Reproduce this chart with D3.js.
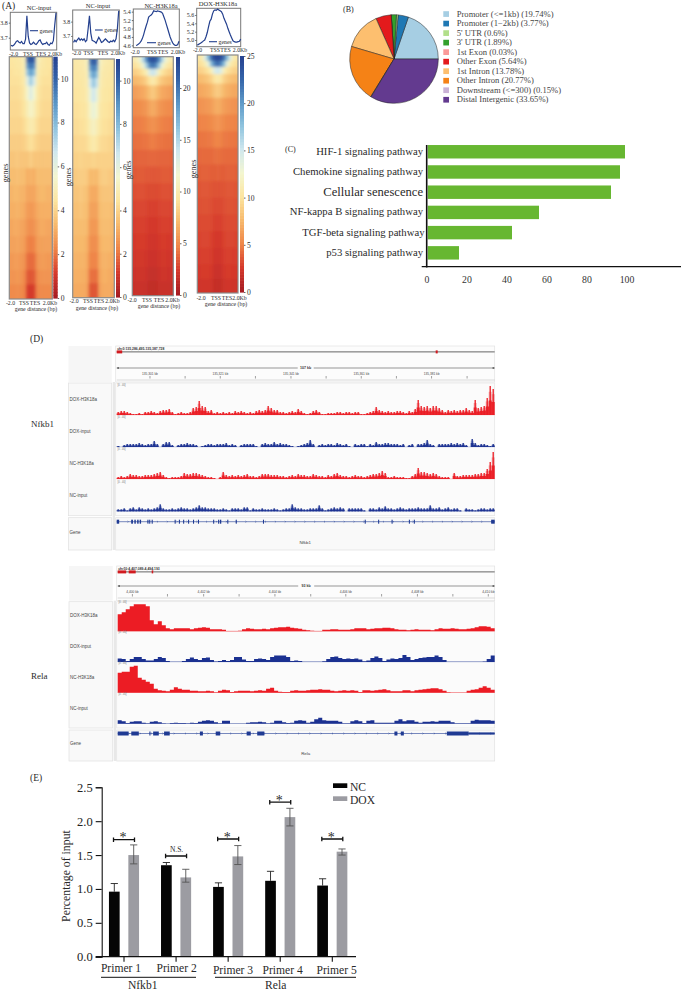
<!DOCTYPE html>
<html><head><meta charset="utf-8">
<script src="https://cdn.jsdelivr.net/npm/d3@7"></script>
<style>
html,body{margin:0;padding:0;background:#fff;overflow:hidden}
svg{display:block}
text{font-family:"Liberation Serif",serif;fill:#2a2a2a}
.igv text,text.igv{font-family:"Liberation Sans",sans-serif;fill:#444}
</style></head><body>
<svg id="c" width="681" height="991"></svg>
<script>
// ---------- Panel A: profile curves ----------
const profileNC1 = [3.65,3.645,3.65,3.66,3.675,3.68,3.67,3.665,3.675,3.66,3.66,3.69,3.845,3.71,3.665,3.655,3.66,3.67,3.66,3.655,3.665,3.68,3.685,3.665,3.655,3.66,3.66,3.67,3.655,3.65,3.665,3.66,3.68,3.78,3.865];
const profileNC2 = [3.655,3.67,3.66,3.675,3.685,3.67,3.68,3.67,3.68,3.66,3.67,3.75,3.84,3.72,3.67,3.665,3.66,3.65,3.67,3.69,3.675,3.655,3.66,3.67,3.68,3.67,3.66,3.655,3.665,3.66,3.67,3.66,3.68,3.75,3.875];
const profileNCk = [4.6,4.61,4.63,4.66,4.70,4.76,4.85,4.96,5.06,5.15,5.27,5.3,5.32,5.36,5.42,5.41,5.40,5.42,5.41,5.40,5.39,5.36,5.28,5.2,5.1,5.0,4.9,4.8,4.72,4.66,4.62,4.6,4.6,4.62,4.7];
const profileDOXk = [4.88,4.89,4.91,4.93,4.95,4.98,5.0,5.08,5.18,5.32,5.45,5.5,5.62,5.7,5.72,5.71,5.74,5.72,5.7,5.68,5.62,5.52,5.45,5.38,5.28,5.2,5.12,5.05,4.98,4.96,4.95,4.95,4.96,4.97,5.02];

// ---------- Panel A: heatmaps (17 rows of genes, 13 columns) ----------
const heatRowEdges = [0,.025,.05,.08,.12,.18,.25,.32,.39,.46,.53,.60,.67,.74,.81,.88,.94,1];
const heatNC1 = [
[4.4,4.5,4.5,4.6,5.0,9.8,10.5,10,5.2,4.7,4.5,4.4,4.4],
[4.4,4.4,4.5,4.5,4.9,8.8,9.6,9.0,5.0,4.6,4.5,4.4,4.4],
[4.3,4.4,4.4,4.5,4.8,7.6,8.6,7.8,4.9,4.5,4.4,4.4,4.3],
[4.3,4.3,4.3,4.4,4.7,6.2,7.4,6.4,4.8,4.4,4.3,4.3,4.3],
[4.2,4.2,4.2,4.3,4.6,5.4,6.2,5.5,4.6,4.3,4.2,4.2,4.2],
[4.1,4.1,4.1,4.2,4.4,4.9,5.3,5.0,4.4,4.2,4.1,4.1,4.1],
[4.0,4.0,4.0,4.0,4.2,4.5,4.8,4.6,4.2,4.0,4.0,4.0,4.0],
[3.8,3.8,3.8,3.8,3.9,4.1,4.3,4.1,3.9,3.8,3.8,3.8,3.8],
[3.6,3.6,3.7,3.6,3.6,3.6,3.8,3.6,3.6,3.6,3.6,3.6,3.6],
[3.4,3.4,3.5,3.4,3.4,3.1,3.2,3.1,3.4,3.4,3.4,3.4,3.4],
[3.2,3.3,3.3,3.2,3.2,2.9,2.9,2.9,3.2,3.3,3.3,3.2,3.2],
[3.1,3.1,3.2,3.1,3.0,2.7,2.6,2.7,3.0,3.1,3.1,3.1,3.1],
[2.9,3.0,3.0,2.9,2.8,2.5,2.4,2.5,2.8,3.0,3.0,2.9,2.9],
[2.8,2.8,2.9,2.8,2.7,2.2,2.1,2.2,2.7,2.8,2.8,2.8,2.8],
[2.6,2.7,2.7,2.6,2.5,1.9,1.8,1.9,2.5,2.7,2.7,2.6,2.6],
[2.5,2.5,2.6,2.5,2.3,1.6,1.5,1.6,2.3,2.5,2.5,2.5,2.5],
[2.3,2.3,2.4,2.3,2.2,1.2,1.0,1.2,2.2,2.3,2.3,2.3,2.3]];
const heatNC2 = [
[4.6,4.6,4.7,4.7,5.1,9.4,10.2,9.6,5.3,4.8,4.7,4.6,4.6],
[4.5,4.6,4.6,4.7,5.0,8.6,9.4,8.8,5.1,4.7,4.6,4.6,4.5],
[4.5,4.5,4.6,4.6,4.9,7.6,8.6,7.8,5.0,4.6,4.6,4.5,4.5],
[4.5,4.5,4.5,4.6,4.8,6.6,7.6,6.8,4.9,4.6,4.5,4.5,4.5],
[4.4,4.4,4.5,4.5,4.8,5.8,6.6,5.9,4.8,4.5,4.5,4.4,4.4],
[4.3,4.3,4.4,4.4,4.6,5.3,5.8,5.4,4.6,4.4,4.4,4.3,4.3],
[4.2,4.2,4.3,4.3,4.5,4.9,5.2,4.9,4.5,4.3,4.3,4.2,4.2],
[4.0,4.1,4.1,4.1,4.2,4.5,4.7,4.5,4.2,4.1,4.1,4.0,4.0],
[3.9,3.9,4.0,3.9,3.9,3.9,4.0,3.9,3.9,3.9,3.9,3.9,3.9],
[3.7,3.8,3.8,3.8,3.7,3.3,3.4,3.3,3.7,3.8,3.8,3.7,3.7],
[3.6,3.6,3.7,3.6,3.5,3.0,3.0,3.0,3.5,3.6,3.6,3.6,3.6],
[3.5,3.5,3.6,3.5,3.4,2.8,2.8,2.8,3.4,3.5,3.5,3.5,3.4],
[3.4,3.4,3.4,3.4,3.3,2.6,2.6,2.6,3.3,3.4,3.4,3.4,3.3],
[3.3,3.3,3.3,3.3,3.1,2.4,2.4,2.4,3.1,3.3,3.3,3.3,3.2],
[3.2,3.2,3.2,3.2,3.0,2.2,2.2,2.2,3.0,3.2,3.2,3.1,3.1],
[3.1,3.1,3.1,3.1,2.9,1.9,1.9,1.9,2.9,3.1,3.1,3.0,3.0],
[3.0,3.0,3.0,3.0,2.8,1.5,1.5,1.5,2.8,3.0,3.0,3.0,2.9]];
const heatNCk = [
[9.8,10.5,12,15,19,21.5,22,21.5,19,15,12,10.5,9.8],
[9,9.4,10.2,12,15.5,19,20,19,15.5,12,10.2,9.4,9],
[8,8.2,8.6,9.2,10.4,13,14,13,10.4,9.2,8.6,8.2,8],
[6.8,7,7.2,7.6,8.2,9.2,9.8,9.2,8.2,7.6,7.2,7,6.8],
[5.6,5.8,6,6.2,6.6,7.3,7.8,7.3,6.6,6.2,6,5.8,5.6],
[4.8,4.9,5,5.2,5.4,6,6.3,6,5.4,5.2,5,4.9,4.8],
[4.3,4.4,4.4,4.5,4.7,5,5.2,5,4.7,4.5,4.4,4.4,4.3],
[3.9,4,4,4.1,4.1,4.3,4.4,4.3,4.1,4.1,4,4,3.9],
[3.5,3.6,3.6,3.6,3.6,3.7,3.7,3.7,3.6,3.6,3.6,3.6,3.5],
[3.2,3.3,3.3,3.3,3.2,3.2,3.2,3.2,3.2,3.3,3.3,3.3,3.2],
[2.9,3,3,3,2.9,2.8,2.8,2.8,2.9,3,3,3,2.9],
[2.6,2.7,2.7,2.7,2.6,2.5,2.5,2.5,2.6,2.7,2.7,2.7,2.6],
[2.4,2.5,2.5,2.5,2.4,2.2,2.2,2.2,2.4,2.5,2.5,2.5,2.4],
[2.2,2.3,2.3,2.3,2.2,2,2,2,2.2,2.3,2.3,2.2,2.2],
[2,2.1,2.1,2.1,2,1.8,1.8,1.8,2,2.1,2.1,2,2],
[1.8,1.9,1.9,1.9,1.8,1.5,1.5,1.5,1.8,1.9,1.9,1.8,1.8],
[1.6,1.7,1.7,1.7,1.6,1.3,1.3,1.3,1.6,1.7,1.7,1.6,1.6]];
const heatDOXk = [
[10.2,11,14,18,22,24,24.5,24,22,18,14,11,10.2],
[9.6,10,11,13.5,18,21,22,21,18,13.5,11,10,9.6],
[8.8,9,9.5,10,11.5,14,15,14,11.5,10,9.5,9,8.8],
[7.6,7.8,8,8.4,9,10,10.5,10,9,8.4,8,7.8,7.6],
[6.6,6.7,6.9,7.1,7.5,8.2,8.6,8.2,7.5,7.1,6.9,6.7,6.6],
[5.6,5.7,5.8,6,6.2,6.7,7,6.7,6.2,6,5.8,5.7,5.6],
[4.9,5,5,5.1,5.3,5.6,5.8,5.6,5.3,5.1,5,5,4.9],
[4.4,4.5,4.5,4.6,4.6,4.9,5,4.9,4.6,4.6,4.5,4.5,4.4],
[4,4.1,4.1,4.1,4.1,4.2,4.3,4.2,4.1,4.1,4.1,4.1,4],
[3.7,3.8,3.8,3.8,3.7,3.7,3.8,3.7,3.7,3.8,3.8,3.8,3.7],
[3.4,3.5,3.5,3.5,3.4,3.3,3.3,3.3,3.4,3.5,3.5,3.5,3.4],
[3.2,3.3,3.3,3.3,3.2,3,3,3,3.2,3.3,3.3,3.3,3.2],
[3,3.1,3.1,3.1,3,2.7,2.7,2.7,3,3.1,3.1,3.1,3],
[2.8,2.9,2.9,2.9,2.8,2.4,2.4,2.4,2.8,2.9,2.9,2.9,2.8],
[2.6,2.7,2.7,2.7,2.6,2.2,2.2,2.2,2.6,2.7,2.7,2.6,2.6],
[2.4,2.5,2.5,2.5,2.4,1.9,1.9,1.9,2.4,2.5,2.5,2.4,2.4],
[2.1,2.2,2.2,2.2,2.1,1.6,1.6,1.6,2.1,2.2,2.2,2.1,2.1]];
const heatRamp = ["#a61c22","#d63a2c","#ef8648","#f7b96c","#fce5a0","#f3f6d0","#cfe7ee","#8fc3de","#5b97c7","#3463a8","#26408f"];

// ---------- Panel B ----------
const pieLabels = ["Promoter (<=1kb) (19.74%)","Promoter (1\u22122kb) (3.77%)","5' UTR (0.6%)","3' UTR (1.89%)","1st Exon (0.03%)","Other Exon (5.64%)","1st Intron (13.78%)","Other Intron (20.77%)","Downstream (<=300) (0.15%)","Distal Intergenic (33.65%)"];
const pieValues = [19.74,3.77,0.6,1.89,0.03,5.64,13.78,20.77,0.15,33.65];
const pieColors = ["#a6cee3","#1f78b4","#b2df8a","#33a02c","#fb9a99","#e31a1c","#fdbf6f","#f58216","#cab2d6","#633a8f"];

// ---------- Panel C ----------
const pathways = ["HIF-1 signaling pathway","Chemokine signaling pathway","Cellular senescence","NF-kappa B signaling pathway","TGF-beta signaling pathway","p53 signaling pathway"];
const pathwayValues = [99,96.5,92,56,42.5,16];
const pathwayTicks = [0,20,40,60,80,100];

// ---------- Panel D: Nfkb1 tracks (signal per bin) ----------
const nfkbDoxH3K = [3,4,4,3,2,1,1,2,1,3,3,4,3,2,4,5,5,6,3,1,2,3,2,2,3,7,8,14,9,8,4,5,2,3,2,3,2,3,2,4,3,4,3,2,3,2,4,5,4,5,9,7,5,5,3,3,2,3,4,3,6,4,2,1,2,4,5,3,1,1,2,2,2,3,3,2,3,3,2,3,3,1,1,2,3,4,8,5,4,3,4,3,3,4,4,3,2,4,3,6,15,9,8,9,7,9,9,7,5,3,5,4,5,4,5,5,7,5,4,15,7,8,9,17,29,26];
const nfkbDoxInput = [1,0,2,3,3,3,3,4,3,2,3,3,6,3,0,3,5,5,2,0,2,3,3,4,3,3,2,0,1,2,3,3,2,3,3,3,4,2,3,2,0,2,3,3,3,3,1,0,3,4,3,3,5,3,4,3,3,2,1,0,1,2,3,4,7,3,0,2,3,2,3,3,2,4,3,2,3,1,0,3,2,3,3,1,3,2,5,3,3,4,4,3,3,3,2,3,0,2,3,0,3,3,4,7,3,2,0,3,3,3,3,4,3,4,3,4,2,0,8,4,2,3,3,2,1,3];
const nfkbNcH3K = [2,3,2,3,5,4,4,3,3,4,4,4,5,6,7,4,2,1,2,2,2,3,6,5,5,6,6,5,4,3,2,2,1,0,2,7,4,3,4,3,4,3,4,5,3,3,2,3,5,5,5,4,4,4,3,3,2,3,4,3,5,4,4,3,3,5,4,3,3,2,4,3,5,6,4,3,3,2,3,4,3,3,2,3,4,5,5,6,8,6,2,2,3,2,2,2,1,1,3,5,11,7,7,6,5,6,5,3,2,2,2,0,6,3,3,4,4,4,4,5,5,6,6,10,17,27];
const nfkbNcInput = [2,2,3,1,3,4,2,4,3,2,3,2,3,4,7,3,2,2,3,2,3,4,3,3,2,3,4,6,4,4,3,3,3,2,2,3,2,1,3,3,3,2,4,4,1,3,2,2,3,2,2,2,3,2,1,2,3,3,7,4,3,3,2,2,3,3,3,6,3,1,2,3,4,3,4,3,0,3,3,3,3,3,1,0,3,3,2,4,3,5,3,3,2,3,4,3,2,3,3,3,4,3,3,3,6,3,3,4,2,3,4,2,3,3,1,0,3,2,2,1,2,3,3,2,3,3];
const nfkbExons = [[0,.7],[4.1,4.6],[5,5.4],[5.8,6.2],[6.5,6.9],[8.7,9],[9.2,9.5],[9.9,10.2],[16.4,16.7],[17.6,17.9],[18.8,19.1],[20.2,20.5],[21.6,21.9],[23,23.3],[27.3,27.6],[28.7,29],[29.2,29.6],[31.3,31.6],[33.7,34],[41.4,41.7],[70.2,70.5],[74,74.3],[77.8,78.1],[82.7,83],[84.1,84.4],[106,107]];
const nfkbAxisTicks = [8.8,18.1,27.4,36.7,46.1,55.4,64.7,74,83.3,92.7];
const nfkbTickLabels = ["135,301 kb","","135,321 kb","","135,341 kb","","135,361 kb","","135,381 kb",""];

// ---------- Panel D: Rela tracks ----------
const relaDoxH3K = [17,19,22,25,27,27,27,25,11,7,10,6,3,2,3,3,3,3,2,3,3.5,4,3.5,2,2,2,1.5,.4,.4,.4,.5,2,3,2.5,2,2,2.5,2,3,3.5,4,4,4.5,3.5,3,2.5,1.5,1,.5,.4,.4,1.5,1.5,2,2,1.5,1.5,1.5,2,3,3,3,2,2.5,3,3,3.5,3.5,3,2,1.5,1.5,1,1.5,2,1.5,1.5,1.5,1,2,3,2.5,2.5,3,2.5,2,2,2.5,3,4,5,5,4.5,3];
const relaDoxInput = [3.5,3,1,3,5,5,3,1.5,1.5,3,5,4,1,.3,.3,.3,1,3,4.5,3,2,4,4.5,2,.5,1,2,1,2,5,5,2.5,1,1,3,3.5,3,2,5,6.5,6.5,6.5,5,1,1.5,1,.3,.3,.3,.3,.3,.8,3,5,5.5,4,3,3.5,3,3.5,2.5,.8,1.5,4,5.5,4,1,2.5,3.5,3,4,7,5,2,3,4,4.5,5,5,6.5,5,2,.3,.3,.3,.3,.3,.3,.3,.3,.3,.5,3,6.5];
const relaNcH3K = [20,21,21,26,27,15,13,11,9,4,2.5,2,1.5,3,5.5,4,3,3,2,2,1.5,1.5,2,1.5,.4,2,3,2.5,.8,1.5,2,2,2,1.5,2,2.5,2,4,5,2,1,.8,.8,2,2.5,2,2,2.5,3,3,3.5,3,3,2,1.5,2,2.5,2,2.5,2,.8,2.5,2.5,2,2.5,3,3.5,2.5,1.5,1.5,1.5,2.5,2.5,1.5,2.5,3,3.5,4,4.5,4.5,3.5,2,.5,.3,.3,.3,.3,2,3,3.5,5,6.5,5,3];
const relaNcInput = [3.5,2.5,.8,2,2.5,2.5,1,.4,2,2.5,1.5,.4,.3,.8,1,.8,.8,.5,1,.8,2,3,3.5,3,1.5,.5,3,3,.3,.3,.3,.3,1,1.5,1.5,2,1.5,.5,1,3,3,1.5,.8,1,3,3.5,3,1,2,4.5,6,3.5,3,3,3,2,.5,.5,2.5,3.5,2.5,.6,3,3.5,1,1,1,1,1,3,4.5,2.5,3.5,3.5,2,1,2,2,2.5,2,3,3,3,1.5,.4,.4,.4,.5,3,4,3.5,3.5,3.5,3];
const relaExons = [[0,2.9,1],[3.6,5.6,1],[8.4,8.7,1],[9.4,10.9,1],[12.3,13.8,1],[21.8,22.6,1],[26,27.2,1],[34.2,35.3,1],[37,38.9,1],[73.4,74.2,1],[75.1,75.9,1],[87.3,93.1,1],[93.1,100,.55]];
const relaAxisTicks = [3.9,13.2,22.8,32.2,41.7,51.2,60.5,70,79.5,88.9,98.3];
const relaTickLabels = ["4,400 kb","","4,402 kb","","4,404 kb","","4,406 kb","","4,408 kb","","4,410 kb"];

// ---------- Panel E ----------
const primers = ["Primer 1","Primer 2","Primer 3","Primer 4","Primer 5"];
const ncValues = [0.96,1.35,1.03,1.12,1.05];
const ncUpper = [1.08,1.39,1.09,1.26,1.15];
const doxValues = [1.5,1.17,1.48,2.06,1.55];
const doxUpper = [1.65,1.29,1.64,2.19,1.59];
const doxLower = [1.37,1.10,1.36,1.93,1.50];
const sigLevels = [1.727,1.486,1.737,2.28,1.737];
const sigLabels = ["*","N.S.","*","*","*"];
const ePanelTicks = [0,0.5,1,1.5,2,2.5];

// ================= drawing =================
const svg = d3.select("#c");
svg.append("rect").attr("width",681).attr("height",991).attr("fill","#fff");
const defs = svg.append("defs");
defs.append("filter").attr("id","hblur").attr("x","-5%").attr("y","-5%").attr("width","110%").attr("height","110%")
  .append("feGaussianBlur").attr("stdDeviation","1.8 1.8");
const label=(x,y,t,size,anchor="start",extra={})=>{
  const s=svg.append("text").attr("x",x).attr("y",y).attr("font-size",size).attr("text-anchor",anchor).text(t);
  Object.entries(extra).forEach(([k,v])=>s.attr(k,v)); return s;
};

// ---- Panel A ----
const panels=[
 {title:"NC-input",tx:39,ty:9.5,prof:profileNC1,box:[10.3,12.3,56.7,50],lx:[11,56],yd:[3.618,3.869],yt:[3.7,3.8],
  xl:[[13.5,"-2.0"],[28,"TSS"],[41,"TES"],[55,"2.0Kb"]],xly:56,leg:[30,38,30.7],
  heat:heatNC1,hb:[9.3,56.7,52.3,299],bar:[53.3,56.7,57.7,298],max:11,cb:[0,2,4,6,8,10],
  bl:[[10.5,"-2.0"],[24,"TSS"],[35,"TES"],[50,"2.0Kb"]],bly:305,gx:36,gy:311,gn:[7.6,173]},
 {title:"NC-input",tx:98,ty:8,prof:profileNC2,box:[72.7,10,119.3,50],lx:[73.5,118.7],yd:[3.602,3.881],yt:[3.7,3.8],
  xl:[[76.5,"-2.0"],[88.5,"TSS"],[103,"TES"],[118,"2.0Kb"]],xly:55,leg:[95,102.7,30],
  heat:heatNC2,hb:[72.7,59,114.3,297.7],bar:[116,59,120,297],max:11,cb:[0,2,4,6,8,10],
  bl:[[74,"-2.0"],[88,"TSS"],[99,"TES"],[112.5,"2.0Kb"]],bly:303,gx:97,gy:309.5,gn:[70.5,177]},
 {title:"NC-H3K18a",tx:161,ty:8,prof:profileNCk,box:[133.3,9,179.3,47.7],lx:[136,179],yd:[4.545,5.463],yt:[4.6,4.8,5.0,5.2,5.4],
  xl:[[135,"-2.0"],[152,"TSS"],[163,"TES"],[178,"2.0Kb"]],xly:53.5,leg:[147,156,42.7],
  heat:heatNCk,hb:[132.3,56.7,173.3,295.7],bar:[176,57,180,295],max:23,cb:[0,5,10,15,20],
  bl:[[132,"-2.0"],[147,"TSS"],[159,"TES"],[172.5,"2.0Kb"]],bly:302,gx:159,gy:308,gn:[131,170]},
 {title:"DOX-H3K18a",tx:218,ty:6,prof:profileDOXk,box:[196.7,8.3,240.7,46.7],lx:[197,240.7],yd:[4.84,5.76],yt:[5.0,5.2,5.4,5.6],
  xl:[[197.5,"-2.0"],[215,"TSS"],[225.5,"TES"],[240,"2.0Kb"]],xly:52,leg:[209,217,41.7],
  heat:heatDOXk,hb:[197.3,55,238,293],bar:[240,56,244,292],max:25,cb:[0,5,10,15,20,25],
  bl:[[201,"-2.0"],[216,"TSS"],[227,"TES"],[239.5,"2.0Kb"]],bly:300,gx:226,gy:306,gn:[196,169]}
];
label(2,9,"(A)",9.5);
panels.forEach((p,pi)=>{
  const g=svg.append("g");
  const [bx0,by0,bx1,by1]=p.box;
  const y=d3.scaleLinear().domain(p.yd).range([by1,by0]);
  const x=d3.scaleLinear().domain([0,p.prof.length-1]).range(p.lx);
  label(p.tx,p.ty,p.title,6.5,"middle");
  g.append("rect").attr("x",bx0).attr("y",by0).attr("width",bx1-bx0).attr("height",by1-by0)
    .attr("fill","#fff").attr("stroke","#777").attr("stroke-width",1);
  g.append("path").datum(p.prof).attr("fill","none").attr("stroke","#24408e").attr("stroke-width",1.2)
    .attr("d",d3.line().x((d,i)=>x(i)).y(d=>y(d)));
  const ya=g.append("g").attr("transform",`translate(${bx0},0)`).call(d3.axisLeft(y).tickValues(p.yt).tickFormat(d3.format(".1f")).tickSize(1.5).tickPadding(1));
  ya.select(".domain").remove(); ya.selectAll("text").attr("font-size",6).attr("font-family","Liberation Serif");
  ya.selectAll("line").attr("stroke","#666");
  p.xl.forEach(([lx,t])=>label(lx,p.xly,t,5.8,"middle"));
  g.append("line").attr("x1",p.leg[0]).attr("x2",p.leg[1]).attr("y1",p.leg[2]).attr("y2",p.leg[2]).attr("stroke","#24408e").attr("stroke-width",1.1);
  label(p.leg[1]+1.6,p.leg[2]+1.8,"genes",5.8);

  // heatmap
  const [hx0,hy0,hx1,hy1]=p.hb;
  const color=d3.scaleLinear().domain(heatRamp.map((c,i)=>i/(heatRamp.length-1)*p.max)).range(heatRamp).clamp(true);
  const hxS=d3.scaleBand().domain(d3.range(p.heat[0].length)).range([hx0,hx1]);
  const hyS=d3.scaleLinear().domain([0,1]).range([hy0,hy1]);
  const cid="hc"+pi;
  defs.append("clipPath").attr("id",cid).append("rect").attr("x",hx0).attr("y",hy0).attr("width",hx1-hx0).attr("height",hy1-hy0);
  const hg=g.append("g").attr("clip-path",`url(#${cid})`);
  const cells=p.heat.flatMap((r,ri)=>r.map((v,ci)=>({r:ri,c:ci,v})));
  [hg.append("g"),hg.append("g").attr("filter","url(#hblur)")].forEach(layer=>{
    layer.selectAll("rect").data(cells).join("rect")
      .attr("x",d=>hxS(d.c)).attr("y",d=>hyS(heatRowEdges[d.r]))
      .attr("width",hxS.bandwidth()+.5).attr("height",d=>hyS(heatRowEdges[d.r+1])-hyS(heatRowEdges[d.r])+.5).attr("fill",d=>color(d.v));
  });
  g.append("rect").attr("x",hx0).attr("y",hy0).attr("width",hx1-hx0).attr("height",hy1-hy0)
    .attr("fill","none").attr("stroke","#8a8a8a").attr("stroke-width",1.2);
  // colour bar
  const [cx0,cy0,cx1,cy1]=p.bar;
  const cy=d3.scaleLinear().domain([0,p.max]).range([cy1,cy0]);
  g.append("g").selectAll("rect").data(d3.range(0,p.max,p.max/80)).join("rect")
    .attr("x",cx0).attr("width",cx1-cx0).attr("y",d=>cy(d+p.max/80)).attr("height",(cy1-cy0)/80+.6).attr("fill",d=>color(d));
  const ca=g.append("g").attr("transform",`translate(${cx1},0)`).call(d3.axisRight(cy).tickValues(p.cb).tickFormat(d3.format("d")).tickSize(1.5).tickPadding(1.5));
  ca.select(".domain").remove(); ca.selectAll("text").attr("font-size",7.6).attr("font-family","Liberation Serif");
  ca.selectAll("line").attr("stroke","#666");
  p.bl.forEach(([lx,t])=>label(lx,p.bly,t,5.8,"middle"));
  label(p.gx,p.gy,"gene distance (bp)",5.8,"middle");
  label(p.gn[0],p.gn[1],"genes",8.2,"middle",{transform:`rotate(-90 ${p.gn[0]} ${p.gn[1]})`});
});

// ---- Panel B ----
label(343,12,"(B)",8);
const pieG=svg.append("g").attr("transform","translate(394,59)");
const pie=d3.pie().sort(null).startAngle(Math.PI/2).endAngle(Math.PI/2-2*Math.PI);
const arc=d3.arc().innerRadius(0).outerRadius(44.3);
pieG.selectAll("path").data(pie(pieValues)).join("path").attr("d",arc)
  .attr("fill",(d,i)=>pieColors[i]).attr("stroke","#222").attr("stroke-width",.5);
const legY=d3.scalePoint().domain(pieLabels).range([14,99.7]);
pieLabels.forEach((t,i)=>{
  svg.append("rect").attr("x",443.3).attr("y",legY(t)-2.8).attr("width",5.7).attr("height",5.7).attr("fill",pieColors[i]);
  label(456.7,legY(t)+2.6,t,8.6).style("fill","#444");
});

// ---- Panel C ----
label(285,152,"(C)",8);
const cX=d3.scaleLinear().domain([0,100]).range([427,627]);
const cY=d3.scaleBand().domain(pathways).range([141.6,263]).paddingInner(.335).paddingOuter(.17);
svg.append("g").selectAll("rect").data(pathways).join("rect")
  .attr("x",cX(0)+.8).attr("y",d=>cY(d)).attr("height",cY.bandwidth())
  .attr("width",(d,i)=>cX(pathwayValues[i])-cX(0)-.8).attr("fill","#67b731");
svg.append("line").attr("x1",426.7).attr("x2",426.7).attr("y1",145).attr("y2",267.5).attr("stroke","#111").attr("stroke-width",1.6);
svg.append("line").attr("x1",421.7).attr("x2",681).attr("y1",266.7).attr("y2",266.7).attr("stroke","#111").attr("stroke-width",1.2);
pathwayTicks.forEach(t=>label(cX(t),283,t,9.8,"middle").style("fill","#333"));
pathways.forEach(p=>{
  const big=p==="Cellular senescence";
  label(p.startsWith("TGF")?424.5:423,cY(p)+cY.bandwidth()/2+(big?3.8:3),p,big?12.6:10.7,"end");
});

// ---- Panel D ----
label(30,342,"(D)",9.5);
label(31,427,"Nfkb1",9);
label(31,679,"Rela",9);

function igv(o){
  const g=svg.append("g").attr("class","igv");
  const {L,M,R,top,hdrBot,base,geneTop,geneBot,chr}=o;
  const panelBg="#f9f9f9";
  g.append("rect").attr("x",L).attr("y",top).attr("width",R-L).attr("height",geneBot-top).attr("fill","#fff");
  g.append("rect").attr("x",L).attr("y",top).attr("width",M-L-5).attr("height",hdrBot-top).attr("fill","#f6f6f6");
  g.append("rect").attr("x",M-1).attr("y",top).attr("width",R-M+1).attr("height",hdrBot-top).attr("fill","#fcfcfc").attr("stroke","#e2e2e2").attr("stroke-width",.7);
  g.append("rect").attr("x",L).attr("y",hdrBot+1).attr("width",M-L-5).attr("height",geneTop-hdrBot-3).attr("fill",panelBg).attr("stroke","#e0e0e0").attr("stroke-width",.7);
  g.append("rect").attr("x",M-1).attr("y",hdrBot+1).attr("width",R-M+1).attr("height",geneTop-hdrBot-3).attr("fill","#fbfbfb").attr("stroke","#e4e4e4").attr("stroke-width",.7);
  g.append("rect").attr("x",L).attr("y",geneTop).attr("width",M-L-5).attr("height",geneBot-geneTop).attr("fill",panelBg).attr("stroke","#e0e0e0").attr("stroke-width",.7);
  g.append("rect").attr("x",M-1).attr("y",geneTop).attr("width",R-M+1).attr("height",geneBot-geneTop).attr("fill","#f9f9f9").attr("stroke","#e0e0e0").attr("stroke-width",.7);
  g.append("rect").attr("x",M-4).attr("y",hdrBot).attr("width",2.4).attr("height",geneBot-hdrBot).attr("fill","#e8e8e8");
  // header
  g.append("text").attr("x",M+.5).attr("y",top+3.7).attr("font-size",3.4).attr("font-weight","bold").style("fill","#333").text(chr);
  g.append("rect").attr("x",M).attr("y",top+5.2).attr("width",R-M).attr("height",1.3).attr("fill","#888");
  o.ideo.forEach(([a,b])=>g.append("rect").attr("x",M+a).attr("y",top+4.4).attr("width",b-a).attr("height",3).attr("fill","#d11a1f"));
  const kb=d3.scaleLinear().domain([0,100]).range([M,R]);
  g.append("line").attr("x1",M).attr("x2",R).attr("y1",o.scaleY).attr("y2",o.scaleY).attr("stroke","#333").attr("stroke-width",.5);
  g.append("rect").attr("x",(M+R)/2-8).attr("y",o.scaleY-2).attr("width",16).attr("height",4).attr("fill","#fcfcfc");
  g.append("text").attr("x",(M+R)/2).attr("y",o.scaleY+1.4).attr("font-size",3.6).attr("font-weight","bold").attr("text-anchor","middle").style("fill","#333").text(o.span);
  g.append("path").attr("fill","#333").attr("d",`M${M} ${o.scaleY}l2 -1v2zM${R} ${o.scaleY}l-2 -1v2z`);
  o.ticks.forEach((t,i)=>{
    g.append("line").attr("x1",kb(t)).attr("x2",kb(t)).attr("y1",o.scaleY+8).attr("y2",o.scaleY+10.5).attr("stroke","#444").attr("stroke-width",.5);
    if(o.tickLabels[i]) g.append("text").attr("x",kb(t)).attr("y",o.scaleY+7).attr("font-size",3.2).attr("text-anchor","middle").style("fill","#444").text(o.tickLabels[i]);
  });
  g.append("line").attr("x1",M).attr("x2",R).attr("y1",o.scaleY+12).attr("y2",o.scaleY+12).attr("stroke","#bbb").attr("stroke-width",.5);
  // tracks
  o.tracks.forEach((t,i)=>{
    const by=base[i];
    const y=d3.scaleLinear().domain([0,31]).range([by,by-31]);
    const x=d3.scaleLinear().domain([0,t.values.length]).range([M,R]);
    const col=t.color, vals=[...t.values,t.values[t.values.length-1]];
    g.append("line").attr("x1",M).attr("x2",R).attr("y1",by-.2).attr("y2",by-.2).attr("stroke",col).attr("stroke-opacity",.4).attr("stroke-width",.6);
    if(o.spiky){
      // solid lower body plus a thin spike at each bin's full height
      g.append("path").datum(vals).attr("fill",col).attr("fill-opacity",.92)
        .attr("d",d3.area().curve(d3.curveStepAfter).x((d,j)=>x(j)).y0(by).y1(d=>y(d*.5)));
      const w=x(1)-x(0);
      g.append("g").selectAll("rect").data(t.values).join("rect")
        .attr("x",(d,j)=>x(j)+w*.28).attr("width",w*.44)
        .attr("y",d=>y(d)).attr("height",d=>by-y(d)).attr("fill",col);
      g.append("g").selectAll("rect").data(t.values).join("rect")
        .attr("x",(d,j)=>x(j)).attr("width",w)
        .attr("y",d=>y(d*.8)).attr("height",d=>by-y(d*.8)).attr("fill",col).attr("fill-opacity",.35);
    } else {
      g.append("path").datum(vals).attr("fill",col)
        .attr("d",d3.area().curve(d3.curveStepAfter).x((d,j)=>x(j)).y0(by).y1(d=>y(d)));
    }
    g.append("text").attr("x",L+1).attr("y",by-o.labelUp).attr("font-size",4.5).text(t.name);
    g.append("text").attr("x",M+.8).attr("y",by-28.8).attr("font-size",2.6).style("fill","#777").text("[0 - 40]");
  });
  // gene
  const gx=d3.scaleLinear().domain(o.geneDomain).range([M,R]);
  g.append("line").attr("x1",M).attr("x2",R).attr("y1",o.geneY).attr("y2",o.geneY).attr("stroke","#1f3a93").attr("stroke-width",.6);
  g.selectAll(".ex").data(o.exons).join("rect").attr("x",d=>gx(d[0])).attr("width",d=>Math.max(.7,gx(d[1])-gx(d[0])))
    .attr("y",d=>o.geneY-2*(d[2]||1)).attr("height",d=>4*(d[2]||1)).attr("fill","#1f3a93");
  g.selectAll(".tk").data(d3.range(3,100,o.chev)).join("path").attr("fill","none").attr("stroke","#1f3a93").attr("stroke-width",.4)
    .attr("d",d=>`M${gx(d*o.geneDomain[1]/100)-.6} ${o.geneY-.9}l1 .9l-1 .9`);
  g.append("text").attr("x",L+1).attr("y",o.geneLabelY).attr("font-size",4.5).text("Gene");
  g.append("text").attr("x",(M+R)/2-.5).attr("y",o.geneNameY).attr("font-size",4.4).attr("text-anchor","middle").text(o.gene);
}
igv({L:68.5,M:116.7,R:494.7,top:346,hdrBot:382,base:[415,447,479,511.3],geneTop:517.7,geneBot:550,chr:"chr3:135,286,495-135,387,728",spiky:true,
  ideo:[[0,5.5],[319,321]],scaleY:368,span:"107 kb",ticks:nfkbAxisTicks,tickLabels:nfkbTickLabels,labelUp:14.5,
  tracks:[{name:"DOX-H3K18a",values:nfkbDoxH3K,color:"#ec1c24"},{name:"DOX-input",values:nfkbDoxInput,color:"#1b3191"},{name:"NC-H3K18a",values:nfkbNcH3K,color:"#ec1c24"},{name:"NC-input",values:nfkbNcInput,color:"#1b3191"}],
  geneDomain:[0,107],exons:nfkbExons,geneY:521.7,geneLabelY:533.5,gene:"Nfkb1",geneNameY:544,chev:2.6});
igv({L:69,M:117.7,R:494.7,top:566,hdrBot:600.7,base:[631.3,662,692.7,723.7],geneTop:730,geneBot:761,chr:"chr10:4,407,089-4,494,193",spiky:false,
  ideo:[[0,8.5],[11,18],[34,35.5]],scaleY:586,span:"93 kb",ticks:relaAxisTicks,tickLabels:relaTickLabels,labelUp:14,
  tracks:[{name:"DOX-H3K18a",values:relaDoxH3K,color:"#ec1c24"},{name:"DOX-input",values:relaDoxInput,color:"#1b3191"},{name:"NC-H3K18a",values:relaNcH3K,color:"#ec1c24"},{name:"NC-input",values:relaNcInput,color:"#1b3191"}],
  geneDomain:[0,100],exons:relaExons,geneY:733.5,geneLabelY:744.5,gene:"Rela",geneNameY:755,chev:3});

// ---- Panel E ----
label(30,781,"(E)",9.5);
const eY=d3.scaleLinear().domain([0,2.5]).range([956.7,787.3]);
const eX=d3.scalePoint().domain(primers).range([124,332.3]);
const off=9.7, bw=10.7, cap=3.6;
const eg=svg.append("g");
primers.forEach((p,i)=>{
  const c=eX(p);
  eg.append("path").attr("d",`M${c-off} ${eY(ncValues[i])}V${eY(ncUpper[i])}M${c-off-cap} ${eY(ncUpper[i])}H${c-off+cap}`).attr("stroke","#222").attr("stroke-width",.9).attr("fill","none");
  eg.append("rect").attr("x",c-off-bw/2).attr("width",bw).attr("y",eY(ncValues[i])).attr("height",eY(0)-eY(ncValues[i])).attr("fill","#050505");
  eg.append("rect").attr("x",c+off-bw/2).attr("width",bw).attr("y",eY(doxValues[i])).attr("height",eY(0)-eY(doxValues[i])).attr("fill","#9c9ca2");
  eg.append("path").attr("d",`M${c+off} ${eY(doxLower[i])}V${eY(doxUpper[i])}M${c+off-cap} ${eY(doxUpper[i])}H${c+off+cap}M${c+off-cap} ${eY(doxLower[i])}H${c+off+cap}`).attr("stroke","#555").attr("stroke-width",.9).attr("fill","none");
  const sy=eY(sigLevels[i]);
  const sx0=c-10.5, sx1=c+10.5;
  eg.append("path").attr("d",`M${sx0} ${sy}H${sx1}M${sx0} ${sy-2.3}V${sy+2.3}M${sx1} ${sy-2.3}V${sy+2.3}`).attr("stroke","#111").attr("stroke-width",1.3).attr("fill","none");
  if(sigLabels[i]==="*") label(c-1,sy+2.5,"*",14,"middle");
  else label(c+.5,sy-3.6,sigLabels[i],7.5,"middle");
  eg.append("line").attr("x1",c).attr("x2",c).attr("y1",eY(0)).attr("y2",eY(0)+5).attr("stroke","#111").attr("stroke-width",1.1);
});
const ea=svg.append("g").attr("transform","translate(101.7,0)").call(d3.axisLeft(eY).tickValues(ePanelTicks).tickFormat(d3.format(".1f")).tickSize(6).tickPadding(3));
ea.select(".domain").attr("stroke","#111").attr("stroke-width",1.1);
ea.selectAll("line").attr("stroke","#111").attr("stroke-width",1.1);
ea.selectAll("text").attr("font-size",12.5).attr("font-family","Liberation Serif").style("fill","#222");
svg.append("line").attr("x1",95.7).attr("x2",356).attr("y1",eY(0)).attr("y2",eY(0)).attr("stroke","#111").attr("stroke-width",1.2);
label(69.5,876,"Percentage of input",11.8,"middle",{transform:"rotate(-90 69.5 876)"});
const primerLabelX=[121,176.7,233,282.7,336.7], primerLabelY=[971.7,971.7,974,974,974];
primers.forEach((p,i)=>label(primerLabelX[i],primerLabelY[i],p,11.6,"middle"));
svg.append("line").attr("x1",101).attr("x2",196).attr("y1",977.3).attr("y2",977.3).attr("stroke","#111").attr("stroke-width",1);
svg.append("line").attr("x1",215).attr("x2",356).attr("y1",977.3).attr("y2",977.3).attr("stroke","#111").attr("stroke-width",1);
label(142.7,989,"Nfkb1",11.6,"middle");
label(275.7,989,"Rela",11.6,"middle");
svg.append("rect").attr("x",333).attr("y",783.3).attr("width",14.3).attr("height",4.7).attr("fill","#050505");
svg.append("rect").attr("x",333).attr("y",796.3).attr("width",14.3).attr("height",4.7).attr("fill","#9c9ca2");
label(350,791,"NC",11.6);
label(350,803.5,"DOX",11.6);
</script>
</body></html>
